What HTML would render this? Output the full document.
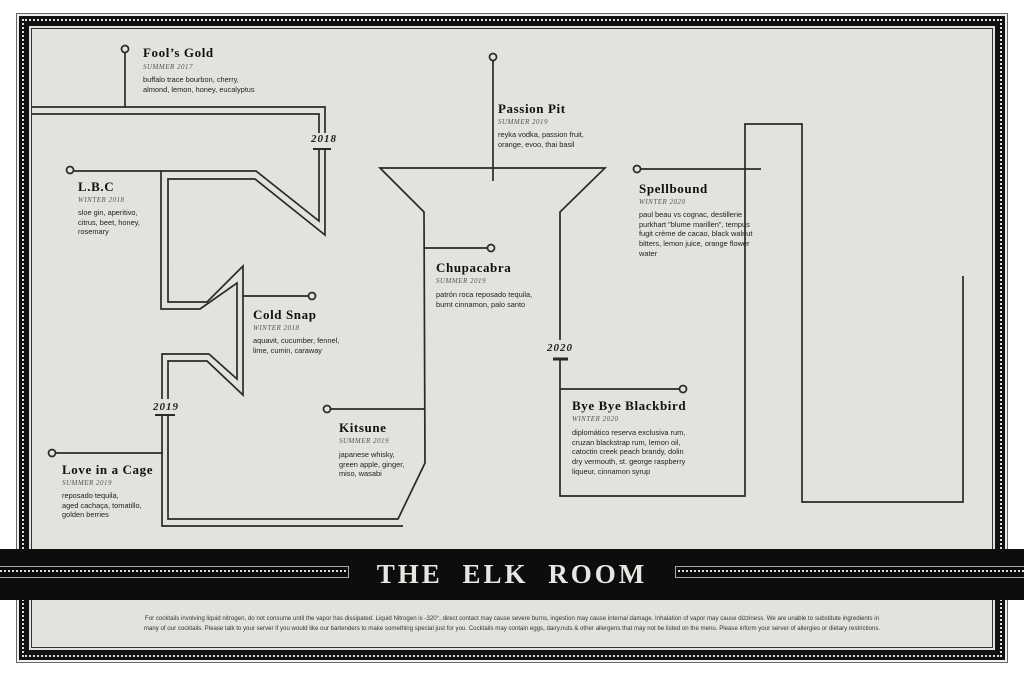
<!DOCTYPE html>
<html><head><meta charset="utf-8"><style>
*{margin:0;padding:0;box-sizing:border-box}
body{width:1024px;height:681px;background:#fff;position:relative;overflow:hidden;font-family:"Liberation Sans",sans-serif;color:#222}
.a{position:absolute}
.t{position:absolute;font-family:"Liberation Serif",serif;font-weight:bold;font-size:13px;letter-spacing:.6px;color:#111;white-space:nowrap;line-height:14px}
.s{position:absolute;font-family:"Liberation Serif",serif;font-style:italic;font-size:7px;letter-spacing:.5px;color:#555;white-space:nowrap;line-height:8px}
.b{position:absolute;font-size:7.4px;line-height:9.7px;color:#222;white-space:nowrap}
.yr{position:absolute;font-family:"Liberation Serif",serif;font-style:italic;font-weight:bold;font-size:11px;letter-spacing:1px;color:#222}
</style></head><body>
<div class="a" style="left:16px;top:13px;width:992px;height:650px;border:1px solid #666;background:#eee"></div>
<div class="a" style="left:19px;top:16px;width:986px;height:644px;background:#111"></div>
<div class="a" style="left:22px;top:19px;width:980px;height:638px;border:2px dotted #ddd"></div>
<div class="a" style="left:29px;top:26px;width:966px;height:624px;background:#e4e2df"></div>
<div class="a" style="left:31px;top:28px;width:962px;height:620px;border:1px solid #333;background:#e4e2df"></div>

<svg class="a" style="left:0;top:0" width="1024" height="681" fill="none" stroke="#2a2a2a" stroke-width="1.7">
<line x1="125" y1="53" x2="125" y2="107"/>
<circle cx="125" cy="49" r="3.5" fill="#e4e2df"/>
<polyline points="32,107 325,107 325,133"/>
<polyline points="325,150 325,235 255,179 168,179 168,302 207,302 243,266 243,395 207,361 168,361 168,399"/>
<polyline points="32,114 319,114 319,133"/>
<polyline points="319,150 319,221 256,171 161,171 161,309 200,309 237,283 237,379 209,354 162,354 162,399"/>
<line x1="313" y1="149" x2="331" y2="149" stroke-width="2"/>
<polyline points="162,415 162,526 403,526"/>
<polyline points="168,415 168,519 398,519 425,463 424,212 380,168 605,168 560,212 560,340"/>
<line x1="155" y1="415" x2="175" y2="415" stroke-width="2"/>
<line x1="553" y1="359" x2="568" y2="359" stroke-width="3"/>
<polyline points="560,359 560,496 745,496 745,124 802,124 802,502 963,502 963,276"/>
<line x1="74" y1="171" x2="161" y2="171"/><circle cx="70" cy="170" r="3.5" fill="#e4e2df"/>
<line x1="243" y1="296" x2="308" y2="296"/><circle cx="312" cy="296" r="3.5" fill="#e4e2df"/>
<line x1="424" y1="248" x2="487" y2="248"/><circle cx="491" cy="248" r="3.5" fill="#e4e2df"/>
<line x1="331" y1="409" x2="424" y2="409"/><circle cx="327" cy="409" r="3.5" fill="#e4e2df"/>
<line x1="56" y1="453" x2="163" y2="453"/><circle cx="52" cy="453" r="3.5" fill="#e4e2df"/>
<line x1="493" y1="61" x2="493" y2="181"/><circle cx="493" cy="57" r="3.5" fill="#e4e2df"/>
<line x1="641" y1="169" x2="761" y2="169"/><circle cx="637" cy="169" r="3.5" fill="#e4e2df"/>
<line x1="560" y1="389" x2="679" y2="389"/><circle cx="683" cy="389" r="3.5" fill="#e4e2df"/>
</svg>

<div class="yr" style="left:311px;top:133px">2018</div>
<div class="yr" style="left:153px;top:401px">2019</div>
<div class="yr" style="left:547px;top:342px">2020</div>

<div class="t" style="left:143px;top:46px">Fool’s Gold</div>
<div class="s" style="left:143px;top:63px">SUMMER 2017</div>
<div class="b" style="left:143px;top:75px">buffalo trace bourbon, cherry,<br>almond, lemon, honey, eucalyptus</div>

<div class="t" style="left:78px;top:180px">L.B.C</div>
<div class="s" style="left:78px;top:196px">WINTER 2018</div>
<div class="b" style="left:78px;top:208px">sloe gin, aperitivo,<br>citrus, beet, honey,<br>rosemary</div>

<div class="t" style="left:253px;top:308px">Cold Snap</div>
<div class="s" style="left:253px;top:324px">WINTER 2018</div>
<div class="b" style="left:253px;top:336px">aquavit, cucumber, fennel,<br>lime, cumin, caraway</div>

<div class="t" style="left:62px;top:463px">Love in a Cage</div>
<div class="s" style="left:62px;top:479px">SUMMER 2019</div>
<div class="b" style="left:62px;top:491px">reposado tequila,<br>aged cachaça, tomatillo,<br>golden berries</div>

<div class="t" style="left:339px;top:421px">Kitsune</div>
<div class="s" style="left:339px;top:437px">SUMMER 2019</div>
<div class="b" style="left:339px;top:450px">japanese whisky,<br>green apple, ginger,<br>miso, wasabi</div>

<div class="t" style="left:436px;top:261px">Chupacabra</div>
<div class="s" style="left:436px;top:277px">SUMMER 2019</div>
<div class="b" style="left:436px;top:290px">patrón roca reposado tequila,<br>burnt cinnamon, palo santo</div>

<div class="t" style="left:498px;top:102px">Passion Pit</div>
<div class="s" style="left:498px;top:118px">SUMMER 2019</div>
<div class="b" style="left:498px;top:130px">reyka vodka, passion fruit,<br>orange, evoo, thai basil</div>

<div class="t" style="left:639px;top:182px">Spellbound</div>
<div class="s" style="left:639px;top:198px">WINTER 2020</div>
<div class="b" style="left:639px;top:210px">paul beau vs cognac, destillerie<br>purkhart "blume marillen", tempus<br>fugit crème de cacao, black walnut<br>bitters, lemon juice, orange flower<br>water</div>

<div class="t" style="left:572px;top:399px">Bye Bye Blackbird</div>
<div class="s" style="left:572px;top:415px">WINTER 2020</div>
<div class="b" style="left:572px;top:428px">diplomático reserva exclusiva rum,<br>cruzan blackstrap rum, lemon oil,<br>catoctin creek peach brandy, dolin<br>dry vermouth, st. george raspberry<br>liqueur, cinnamon syrup</div>

<div class="a" style="left:0;top:549px;width:1024px;height:51px;background:#0d0d0d"></div>
<div class="a" style="left:0;top:566px;width:349px;height:12px;border-top:1px solid #aaa;border-bottom:1px solid #aaa;border-right:1px solid #aaa"></div>
<div class="a" style="left:0;top:570px;width:346px;height:0;border-top:2px dotted #ddd"></div>
<div class="a" style="left:675px;top:566px;width:349px;height:12px;border-top:1px solid #aaa;border-bottom:1px solid #aaa;border-left:1px solid #aaa"></div>
<div class="a" style="left:678px;top:570px;width:346px;height:0;border-top:2px dotted #ddd"></div>
<div class="a" style="left:360px;top:557px;width:304px;text-align:center;font-family:'Liberation Serif',serif;font-weight:bold;font-size:27px;letter-spacing:3px;color:#e8e6e2;line-height:34px;word-spacing:10px">THE ELK ROOM</div>

<div class="a" style="left:60px;top:614px;width:904px;text-align:center;font-size:6.3px;line-height:10px;color:#333;white-space:nowrap;transform:scaleX(0.97);transform-origin:center">For cocktails involving liquid nitrogen, do not consume until the vapor has dissipated. Liquid Nitrogen is -320°, direct contact may cause severe burns, ingestion may cause internal damage. Inhalation of vapor may cause dizziness. We are unable to substitute ingredients in<br>many of our cocktails. Please talk to your server if you would like our bartenders to make something special just for you. Cocktails may contain eggs, dairy,nuts &amp; other allergens that may not be listed on the menu. Please inform your server of allergies or dietary restrictions.</div>
</body></html>
